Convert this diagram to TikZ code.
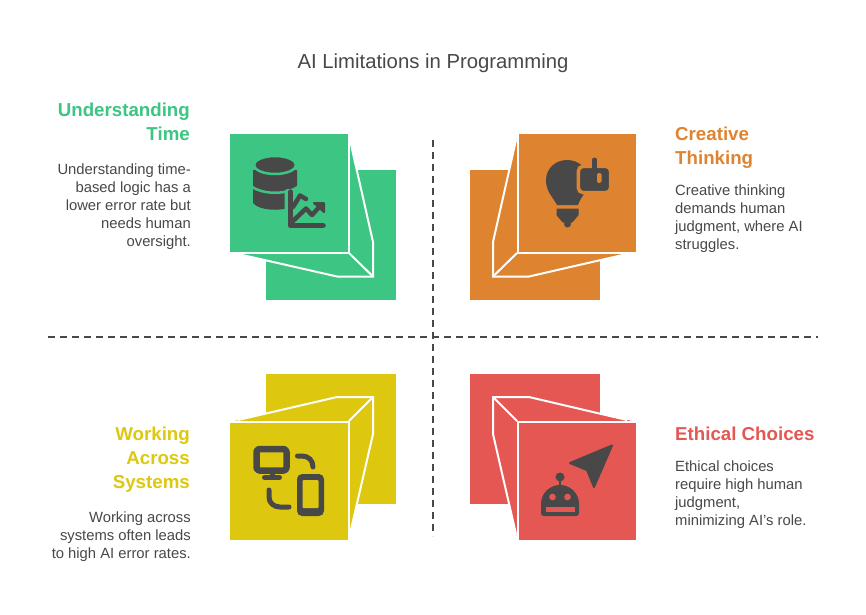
\documentclass[tikz,border=0pt]{standalone}
\usepackage{fontspec}
\setmainfont{Liberation Sans}
\usetikzlibrary{positioning}

\definecolor{ink}{HTML}{484848}
\definecolor{timegreen}{HTML}{3CC583}
\definecolor{thinkorange}{HTML}{DE8431}
\definecolor{sysyellow}{HTML}{DEC80F}
\definecolor{ethicsred}{HTML}{E55753}

\tikzset{
  headright/.style={anchor=north east, align=right, inner sep=0pt, font=\fontsize{18.7}{24}\selectfont\bfseries},
  headleft/.style={anchor=north west, align=left, inner sep=0pt, font=\fontsize{18.7}{24}\selectfont\bfseries},
  bodyright/.style={anchor=north east, align=right, inner sep=0pt, text=ink, font=\fontsize{14.8}{18}\selectfont},
  bodyleft/.style={anchor=north west, align=left, inner sep=0pt, text=ink, font=\fontsize{14.8}{18}\selectfont},
  axisline/.style={draw=ink, line width=1.8pt, dash pattern=on 7pt off 5pt},
  edgeline/.style={draw=white, line width=2pt, line join=miter},
  iconfill/.style={fill=ink, draw=ink, line join=round},
  iconline/.style={draw=ink, line cap=round, line join=round}
}

\begin{document}
\begin{tikzpicture}[x=1pt, y=-1pt]

\path [use as bounding box, fill=white] (0,0) rectangle (866,614);

\node [inner sep=0pt, text=ink, font=\fontsize{20.3}{24}\selectfont] (title) at (433,63.5) {AI Limitations in Programming};

% green panel
\fill [timegreen] (266,170) rectangle (396,300);
\fill [timegreen] (348,134) -- (373,242) -- (373,276) -- (337,276) -- (230,252) -- cycle;
\fill [timegreen] (230,134) rectangle (348,252);
\draw [edgeline] (348.5,134) -- (348.5,252.5) -- (230,252.5);
\draw [edgeline] (350,140) -- (373,242) -- (373,276.5) -- (337,276.5) -- (238,254);
\draw [edgeline] (349,253) -- (373,276.5);

% orange panel
\fill [thinkorange] (470,170) rectangle (600,300);
\fill [thinkorange] (518,134) -- (493,242) -- (493,276) -- (529,276) -- (636,252) -- cycle;
\fill [thinkorange] (518,134) rectangle (636,252);
\draw [edgeline] (517.5,134) -- (517.5,252.5) -- (636,252.5);
\draw [edgeline] (516,140) -- (493,242) -- (493,276.5) -- (529,276.5) -- (627,254);
\draw [edgeline] (517,253) -- (493,276.5);

% yellow panel
\fill [sysyellow] (266,374) rectangle (396,504);
\fill [sysyellow] (230,422) -- (337,397) -- (373,397) -- (373,434) -- (348,540) -- cycle;
\fill [sysyellow] (230,422) rectangle (348,540);
\draw [edgeline] (230,421.5) -- (348.5,421.5) -- (348.5,540);
\draw [edgeline] (238,420) -- (337,397) -- (373,397) -- (373,434) -- (350,534);
\draw [edgeline] (349,421) -- (373,397);

% red panel
\fill [ethicsred] (470,374) rectangle (600,504);
\fill [ethicsred] (636,422) -- (529,397) -- (493,397) -- (493,434) -- (518,540) -- cycle;
\fill [ethicsred] (518,422) rectangle (636,540);
\draw [edgeline] (636,421.5) -- (517.5,421.5) -- (517.5,540);
\draw [edgeline] (627,420) -- (529,397) -- (493,397) -- (493,434) -- (516,534);
\draw [edgeline] (517,421) -- (493,397);

% dashed cross
\coordinate (west) at (48,337);
\coordinate (east) at (818,337);
\coordinate (north) at (433,140);
\coordinate (south) at (433,536);
\draw [axisline] (west) -- (east);
\draw [axisline] (north) -- (south);

% database and chart
\fill [ink] (253,170) -- (297,170) -- (297,203) .. controls (290,212) and (260,212) .. (253,203) -- cycle;
\draw [draw=timegreen, fill=ink, line width=2.5pt] (275,165) ellipse (21 and 9);
\draw [timegreen, line width=2.5pt] (251,186) .. controls (262,195) and (288,195) .. (299,186);
\fill [timegreen, rounded corners=3pt] (284.5,189) rectangle (300,215);
\draw [iconline, line width=5.5pt] (290.5,192) -- (290.5,225.5) -- (323,225.5);
\draw [iconline, line width=4.5pt] (293,207) -- (300,195.5) -- (306,199);
\draw [iconline, line width=4.5pt] (293,221) -- (306,208.5) -- (312,215) -- (321,205);
\fill [iconfill, line width=2pt] (314,203) -- (324,203) -- (324,212) -- cycle;

% bulb and thumb
\fill [ink] (557,205) .. controls (553,197) and (546,192) .. (546,180) .. controls (546,169) and (555,160) .. (567,160) .. controls (580,160) and (589,170) .. (589,181) .. controls (589,190) and (581,196) .. (578,205) -- cycle;
\fill [iconfill, line width=1pt] (557,209) -- (578,209) -- (578,215) -- (572,222) -- (563,222) -- (557,215) -- cycle;
\fill [ink] (567.5,224) circle (3.5);
\draw [draw=thinkorange, fill=ink, line width=3.5pt, rounded corners=5pt] (578.3,166.3) rectangle (610.7,192.7);
\draw [iconline, line width=5pt] (594.5,160) -- (594.5,170);
\fill [thinkorange, rounded corners=2pt] (597,173) rectangle (601.5,183);

% screens
\draw [iconline, line width=6.5pt, rounded corners=3pt] (256.5,449) rectangle (286.5,470.5);
\draw [iconline, line width=5pt] (272,472) -- (272,477.5);
\draw [iconline, line width=5pt] (264.5,477.5) -- (279.5,477.5);
\draw [iconline, line width=5pt] (297.5,456) -- (302,456) .. controls (308,456) and (313,460) .. (313,467);
\draw [iconline, line width=5pt] (269,490) -- (269,497) .. controls (269,503) and (274,507) .. (280,507) -- (289,507);
\fill [ink, rounded corners=5pt] (297,474) rectangle (324,516);
\fill [sysyellow, rounded corners=1pt] (302.5,480) rectangle (318.5,508);

% robot and pointer
\fill [ink] (560,477) circle (4.5);
\draw [iconline, line width=2.5pt] (560,480) -- (560,487);
\fill [ink] (541,513) -- (541,504) .. controls (541,493) and (550,485) .. (560,485) .. controls (570,485) and (579,493) .. (579,504) -- (579,513) .. controls (579,515) and (578,516) .. (576,516) -- (544,516) .. controls (542,516) and (541,515) .. (541,513) -- cycle;
\fill [ethicsred] (552.5,497) circle (3.3);
\fill [ethicsred] (567.5,497) circle (3.3);
\fill [ethicsred] (546,507) rectangle (575,512);
\fill [iconfill, line width=2pt] (612,445.5) -- (570,463) -- (587,470) -- (594,487) -- cycle;

% labels
\node [headright, text=timegreen] (headtime) at (190,103) {Understanding\\Time};
\node [bodyright] (texttime) at (191,164) {Understanding time-\\based logic has a\\lower error rate but\\needs human\\oversight.};

\node [headleft, text=thinkorange] (headthink) at (675,127) {Creative\\Thinking};
\node [bodyleft] (textthink) at (675,185) {Creative thinking\\demands human\\judgment, where AI\\struggles.};

\node [headright, text=sysyellow] (headsys) at (190,427) {Working\\Across\\Systems};
\node [bodyright] (textsys) at (191,512) {Working across\\systems often leads\\to high AI error rates.};

\node [headleft, text=ethicsred] (headethics) at (675,427) {Ethical Choices};
\node [bodyleft] (textethics) at (675,461) {Ethical choices\\require high human\\judgment,\\minimizing AI's role.};

\end{tikzpicture}
\end{document}
